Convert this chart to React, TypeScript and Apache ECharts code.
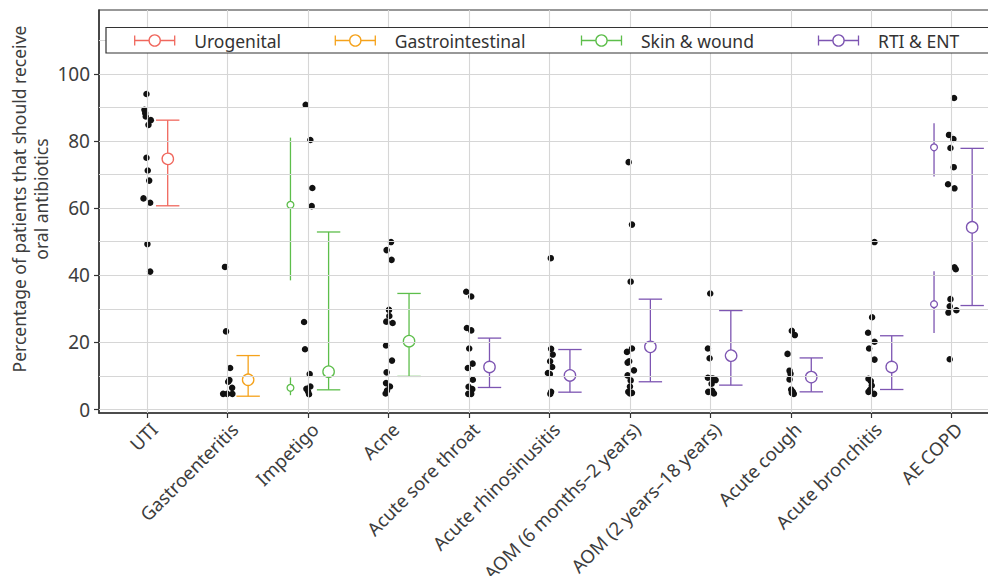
import React, { useEffect, useRef } from "react";
import * as echarts from "echarts";

const categories = [
  "UTI",
  "Gastroenteritis",
  "Impetigo",
  "Acne",
  "Acute sore throat",
  "Acute rhinosinusitis",
  "AOM (6 months–2 years)",
  "AOM (2 years–18 years)",
  "Acute cough",
  "Acute bronchitis",
  "AE COPD",
];

const groups = ["Urogenital", "Gastrointestinal", "Skin & wound", "RTI & ENT"];
const groupColors = ["#F0675D", "#F5A21B", "#5DBE4B", "#7D55B2"];

const categoryGroup = [0, 1, 2, 2, 3, 3, 3, 3, 3, 3, 3];
const estimate = [75.0, 8.9, 11.3, 20.4, 12.7, 10.2, 18.7, 16.6, 9.7, 12.7, 54.3];
const lower = [60.7, 4.0, 5.9, 9.9, 6.6, 5.2, 8.3, 7.3, 5.3, 6.0, 31.0];
const upper = [86.2, 16.1, 52.9, 34.6, 21.3, 17.9, 32.9, 29.5, 15.4, 22.0, 77.8];

const subgroupCategory = [2, 2, 10, 10];
const subgroupEstimate = [61.0, 6.5, 78.1, 31.4];
const subgroupLower = [38.5, 4.3, 69.4, 22.8];
const subgroupUpper = [81.0, 9.6, 85.3, 41.2];

const pointValues = [
  [94.0, 89.3, 88.3, 87.3, 86.2, 84.8, 75.0, 71.2, 68.2, 62.9, 61.6, 49.3, 41.1],
  [42.5, 23.3, 12.4, 8.8, 8.3, 6.5, 4.7, 4.7, 4.7],
  [90.8, 80.3, 66.0, 60.6, 26.1, 18.0, 10.6, 6.9, 6.2, 5.4, 4.6],
  [49.9, 47.5, 44.6, 29.7, 27.9, 26.2, 25.8, 19.1, 14.6, 11.1, 7.9, 6.9, 5.7, 4.8],
  [35.1, 33.7, 24.3, 23.6, 18.2, 13.7, 12.4, 8.9, 6.8, 6.1, 4.7, 4.7],
  [45.1, 18.1, 16.4, 14.4, 12.7, 10.9, 10.6, 5.3, 4.7],
  [73.7, 55.1, 38.1, 18.2, 17.2, 14.4, 14.0, 11.7, 10.2, 8.7, 6.9, 5.3, 5.0, 4.8],
  [34.6, 18.2, 15.3, 9.5, 9.3, 8.8, 7.7, 5.6, 5.3, 4.8],
  [23.5, 22.2, 16.6, 11.6, 10.7, 9.0, 6.0, 5.3, 5.0, 4.7],
  [49.9, 27.5, 22.9, 20.2, 18.2, 14.9, 9.2, 8.5, 7.2, 5.9, 5.3, 4.7],
  [92.8, 81.8, 80.6, 77.9, 72.2, 67.1, 65.9, 42.4, 41.8, 32.9, 30.8, 29.6, 28.9, 15.0],
];

// horizontal jitter of each point, in category units
const pointJitter = [
  [-0.01, -0.035, -0.026, -0.019, 0.044, 0.015, -0.01, 0.006, 0.024, -0.047, 0.036, 0.002, 0.036],
  [-0.034, -0.021, 0.03, 0.021, 0.006, 0.055, -0.057, -0.007, 0.058],
  [-0.031, 0.027, 0.052, 0.044, -0.051, -0.039, 0.019, 0.027, -0.022, -0.001, 0.011],
  [0.03, -0.025, 0.037, 0.005, 0.009, -0.029, 0.05, -0.032, 0.042, -0.025, -0.032, 0.017, -0.02, -0.037],
  [-0.035, 0.027, -0.027, 0.027, 0.002, 0.044, -0.015, 0.047, -0.006, 0.04, -0.01, 0.027],
  [0.016, 0.02, 0.04, 0.008, 0.033, -0.02, 0.005, 0.02, 0.01],
  [-0.016, 0.025, 0.009, 0.025, -0.037, -0.009, -0.029, 0.05, -0.029, 0.009, 0, -0.021, 0.025, 0],
  [-0.002, -0.031, -0.01, -0.031, 0.027, 0.065, 0.015, 0.022, -0.027, 0.044],
  [0.012, 0.05, -0.041, -0.016, -0.004, -0.016, 0.004, 0.025, 0.012, 0.037],
  [0.04, 0.01, -0.04, 0.04, -0.027, 0.04, -0.035, -0.006, 0.006, -0.015, -0.035, 0.035],
  [0.029, -0.034, 0.021, -0.016, 0.025, -0.046, 0.034, 0.034, 0.05, -0.016, -0.025, 0.058, -0.041, -0.025],
];

const yTicks = [0, 20, 40, 60, 80, 100];
const yGridLines = [0, 10, 20, 30, 40, 50, 60, 70, 80, 90, 100, 110];
const yTitle = "Percentage of patients that should receive\noral antibiotics";

const FONT = "'Noto Sans', 'DejaVu Sans', sans-serif";
const TEXT = "#3d3d3d";
const SUMMARY_SHIFT = 0.254;
const SUBGROUP_SHIFT = -0.22;

export default function App() {
  const ref = useRef<HTMLDivElement>(null);

  useEffect(() => {
    if (!ref.current) return;
    const chart = echarts.init(ref.current, null, { renderer: "svg" });

    const catPositions = categories.map((_, i) => i + 1);

    const scatterData: number[][] = [];
    pointValues.forEach((vals, i) => {
      vals.forEach((v, j) => {
        scatterData.push([i + 1 + pointJitter[i][j], v]);
      });
    });

    const summaryData: number[][] = [];
    estimate.forEach((e, i) => {
      summaryData.push([i + 1 + SUMMARY_SHIFT, e, lower[i], upper[i], categoryGroup[i], 0]);
    });
    subgroupEstimate.forEach((e, k) => {
      const c = subgroupCategory[k];
      summaryData.push([c + 1 + SUBGROUP_SHIFT, e, subgroupLower[k], subgroupUpper[k], categoryGroup[c], 1]);
    });

    const legendCenters = [154.7, 355.3, 601.5, 838.5];
    const legendY = 40.5;
    const legendElements: any[] = [
      {
        type: "rect",
        shape: { x: 106, y: 27.5, width: 900, height: 25.5 },
        style: { fill: "#fff", stroke: "#333", lineWidth: 1.2 },
        z: 100,
      },
    ];
    groups.forEach((g, k) => {
      const cx = legendCenters[k];
      const col = groupColors[k];
      legendElements.push(
        { type: "line", shape: { x1: cx - 20, y1: legendY, x2: cx + 20, y2: legendY }, style: { stroke: col, lineWidth: 1.3 }, z: 101 },
        { type: "line", shape: { x1: cx - 20, y1: legendY - 5, x2: cx - 20, y2: legendY + 5 }, style: { stroke: col, lineWidth: 1.3 }, z: 101 },
        { type: "line", shape: { x1: cx + 20, y1: legendY - 5, x2: cx + 20, y2: legendY + 5 }, style: { stroke: col, lineWidth: 1.3 }, z: 101 },
        { type: "circle", shape: { cx, cy: legendY, r: 5.6 }, style: { fill: "#fff", stroke: col, lineWidth: 1.3 }, z: 102 },
        {
          type: "text",
          x: cx + 39.5,
          y: legendY,
          style: { text: g, fill: "#333", font: `17.5px ${FONT}`, textAlign: "left", textVerticalAlign: "middle" },
          z: 102,
        }
      );
    });

    const option: any = {
      animation: false,
      backgroundColor: "#fff",
      grid: {
        left: 99,
        top: 10,
        width: 901,
        height: 403,
        show: true,
        borderColor: "#333",
        borderWidth: 1.2,
        containLabel: false,
        outerBoundsMode: "none",
      },
      xAxis: {
        type: "value",
        min: 0.4,
        max: 11.6,
        splitLine: { show: false },
        axisLine: { show: true, onZero: false, lineStyle: { color: "#333", width: 1.5 } },
        axisTick: { show: true, customValues: catPositions, length: 5, lineStyle: { color: "#333", width: 1.2 } },
        axisLabel: {
          customValues: catPositions,
          formatter: (v: number) => categories[Math.round(v) - 1] ?? "",
          rotate: 45,
          align: "right",
          verticalAlign: "top",
          fontSize: 18.5,
          color: TEXT,
          fontFamily: FONT,
          margin: 6,
          hideOverlap: false,
        },
      },
      yAxis: {
        type: "value",
        min: -1,
        max: 119,
        splitLine: { show: false },
        axisLine: { show: true, onZero: false, lineStyle: { color: "#333", width: 1.5 } },
        axisTick: { show: true, customValues: yTicks, length: 5, lineStyle: { color: "#333", width: 1.2 } },
        axisLabel: { customValues: yTicks, fontSize: 19, color: TEXT, fontFamily: FONT, margin: 9 },
      },
      graphic: [
        {
          type: "text",
          x: 30,
          y: 199,
          rotation: Math.PI / 2,
          style: {
            text: yTitle,
            fill: TEXT,
            font: `17.5px ${FONT}`,
            lineHeight: 22,
            textAlign: "center",
            textVerticalAlign: "middle",
          },
          z: 100,
        },
        ...legendElements,
      ],
      series: [
        {
          type: "scatter",
          data: [],
          z: 1,
          silent: true,
          markLine: {
            silent: true,
            symbol: "none",
            label: { show: false },
            lineStyle: { color: "#d6d6d6", width: 1.1, type: "solid" },
            emphasis: { disabled: true },
            data: [
              ...catPositions.map((x) => ({ xAxis: x })),
              ...yGridLines.map((y) => ({ yAxis: y })),
            ],
          },
        },
        {
          type: "scatter",
          data: scatterData,
          symbol: "circle",
          symbolSize: 6.5,
          itemStyle: { color: "#111", opacity: 1 },
          z: 3,
          silent: true,
        },
        {
          type: "custom",
          data: summaryData,
          z: 4,
          silent: true,
          encode: { x: 0, y: [1, 2, 3] },
          renderItem: (params: any, api: any) => {
            const x = api.value(0);
            const e = api.value(1);
            const lo = api.value(2);
            const hi = api.value(3);
            const g = api.value(4);
            const small = api.value(5) === 1;
            const pe = api.coord([x, e]);
            const pl = api.coord([x, lo]);
            const ph = api.coord([x, hi]);
            const col = groupColors[g];
            const lw = 1.3;
            const children: any[] = [
              { type: "line", shape: { x1: pe[0], y1: pl[1], x2: pe[0], y2: ph[1] }, style: { stroke: col, lineWidth: lw } },
            ];
            if (!small) {
              const hw = 11.7;
              children.push(
                { type: "line", shape: { x1: pe[0] - hw, y1: ph[1], x2: pe[0] + hw, y2: ph[1] }, style: { stroke: col, lineWidth: lw } },
                { type: "line", shape: { x1: pe[0] - hw, y1: pl[1], x2: pe[0] + hw, y2: pl[1] }, style: { stroke: col, lineWidth: lw } }
              );
            }
            children.push({
              type: "circle",
              shape: { cx: pe[0], cy: pe[1], r: small ? 3.4 : 5.7 },
              style: { fill: "#fff", stroke: col, lineWidth: lw },
            });
            return { type: "group", children };
          },
        },
      ],
    };

    chart.setOption(option);
    return () => {
      chart.dispose();
    };
  }, []);

  return (
    <div
      style={{
        position: "fixed",
        left: 0,
        top: 0,
        width: 988,
        height: 576,
        overflow: "hidden",
        background: "#fff",
      }}
    >
      <div ref={ref} style={{ width: 1000, height: 576 }} />
    </div>
  );
}
